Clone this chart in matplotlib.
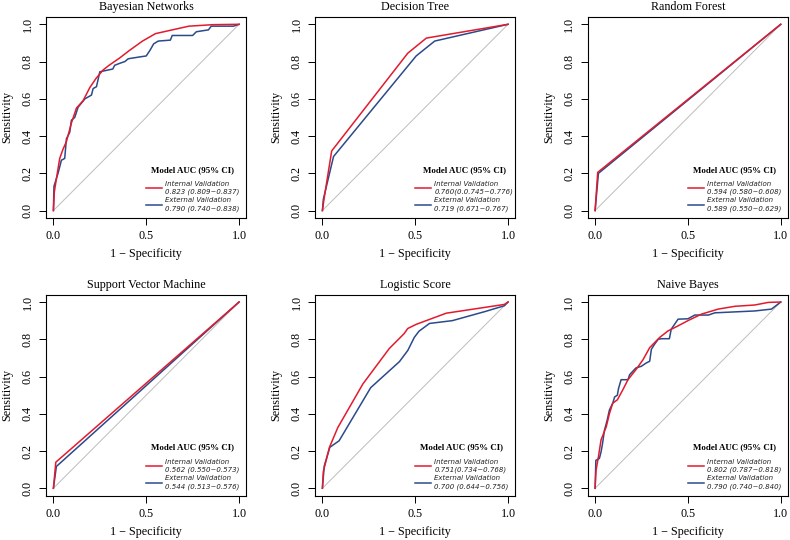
import matplotlib
matplotlib.use("Agg")
import matplotlib.pyplot as plt

plt.rcParams['font.family'] = ['Liberation Serif', 'DejaVu Serif']

# ROC points (fpr, tpr)
titles = ["Bayesian Networks", "Decision Tree", "Random Forest",
          "Support Vector Machine", "Logistic Score", "Naive Bayes"]

bn_int_x = [0, 0.005, 0.016, 0.034, 0.052, 0.07, 0.097, 0.124, 0.16, 0.196, 0.23, 0.268, 0.30, 0.358, 0.41, 0.48, 0.55, 0.64, 0.73, 0.86, 1]
bn_int_y = [0, 0.10, 0.17, 0.28, 0.33, 0.37, 0.47, 0.55, 0.59, 0.66, 0.71, 0.755, 0.78, 0.82, 0.86, 0.91, 0.95, 0.97, 0.99, 0.998, 1]
bn_ext_x = [0, 0.003, 0.025, 0.043, 0.061, 0.07, 0.088, 0.097, 0.115, 0.133, 0.17, 0.205, 0.214, 0.232, 0.25, 0.32, 0.33, 0.356, 0.385, 0.403, 0.466, 0.50, 0.52, 0.54, 0.565, 0.63, 0.64, 0.75, 0.77, 0.835, 0.85, 0.97, 1]
bn_ext_y = [0, 0.13, 0.20, 0.27, 0.28, 0.385, 0.42, 0.485, 0.50, 0.555, 0.60, 0.62, 0.655, 0.665, 0.745, 0.76, 0.78, 0.79, 0.80, 0.815, 0.825, 0.83, 0.86, 0.895, 0.91, 0.915, 0.94, 0.94, 0.96, 0.97, 0.99, 0.99, 1]

dt_int_x = [0, 0.01, 0.05, 0.46, 0.56, 1]
dt_int_y = [0, 0.07, 0.32, 0.845, 0.926, 1]
dt_ext_x = [0, 0.005, 0.06, 0.505, 0.605, 1]
dt_ext_y = [0, 0.06, 0.29, 0.83, 0.91, 1]

rf_int_x = [0, 0.014, 1]
rf_int_y = [0, 0.205, 1]
rf_ext_x = [0, 0.018, 1]
rf_ext_y = [0, 0.20, 1]

svm_int_x = [0, 0.013, 1]
svm_int_y = [0, 0.14, 1]
svm_ext_x = [0, 0.016, 1]
svm_ext_y = [0, 0.117, 1]

ls_int_x = [0, 0.005, 0.038, 0.083, 0.218, 0.36, 0.44, 0.46, 0.505, 0.667, 0.98, 1]
ls_int_y = [0, 0.09, 0.22, 0.326, 0.56, 0.75, 0.83, 0.858, 0.88, 0.94, 0.987, 1]
ls_ext_x = [0, 0.01, 0.04, 0.09, 0.26, 0.415, 0.46, 0.495, 0.52, 0.577, 0.70, 0.88, 0.98, 1]
ls_ext_y = [0, 0.12, 0.22, 0.255, 0.54, 0.68, 0.74, 0.81, 0.843, 0.885, 0.90, 0.95, 0.98, 1]

nb_int_x = [0, 0.005, 0.018, 0.032, 0.06, 0.077, 0.095, 0.12, 0.15, 0.177, 0.22, 0.258, 0.294, 0.348, 0.393, 0.447, 0.50, 0.573, 0.663, 0.753, 0.86, 0.933, 1]
nb_int_y = [0, 0.096, 0.17, 0.26, 0.33, 0.40, 0.457, 0.475, 0.53, 0.583, 0.637, 0.69, 0.755, 0.81, 0.845, 0.872, 0.90, 0.935, 0.962, 0.977, 0.984, 0.998, 1]
nb_ext_x = [0, 0.004, 0.023, 0.032, 0.04, 0.05, 0.065, 0.077, 0.095, 0.105, 0.12, 0.126, 0.14, 0.177, 0.186, 0.22, 0.249, 0.276, 0.294, 0.303, 0.32, 0.34, 0.357, 0.40, 0.41, 0.447, 0.50, 0.537, 0.61, 0.645, 0.86, 0.95, 1]
nb_ext_y = [0, 0.15, 0.16, 0.195, 0.24, 0.31, 0.366, 0.42, 0.457, 0.49, 0.50, 0.535, 0.583, 0.583, 0.61, 0.646, 0.655, 0.673, 0.682, 0.746, 0.773, 0.80, 0.803, 0.803, 0.854, 0.908, 0.91, 0.93, 0.93, 0.942, 0.952, 0.962, 1]

int_auc = ["0.823 (0.809~0.837)", "0.760(0.0.745~0.776)", "0.594 (0.580~0.608)",
           "0.562 (0.550~0.573)", "0.751(0.734~0.768)", "0.802 (0.787~0.818)"]
ext_auc = ["0.790 (0.740~0.838)", "0.719 (0.671~0.767)", "0.589 (0.550~0.629)",
           "0.544 (0.513~0.576)", "0.700 (0.644~0.756)", "0.790 (0.740~0.840)"]

curves = [
    (bn_int_x, bn_int_y, bn_ext_x, bn_ext_y),
    (dt_int_x, dt_int_y, dt_ext_x, dt_ext_y),
    (rf_int_x, rf_int_y, rf_ext_x, rf_ext_y),
    (svm_int_x, svm_int_y, svm_ext_x, svm_ext_y),
    (ls_int_x, ls_int_y, ls_ext_x, ls_ext_y),
    (nb_int_x, nb_int_y, nb_ext_x, nb_ext_y),
]

red = "#E31A2D"
blue = "#2B4A8B"

fig = plt.figure(figsize=(7.9, 5.4), dpi=100)
lefts = [0.0582, 0.3987, 0.7439]
bottoms = [0.5963, 0.082]
w, h = 0.2538, 0.3725

for i in range(6):
    ax = fig.add_axes([lefts[i % 3], bottoms[i // 3], w, h])
    ix, iy, ex, ey = curves[i]
    ax.plot([0, 1], [0, 1], color="#BDBDBD", lw=0.7, zorder=1)
    ax.plot(ix, iy, color=red, lw=1.1, label="Internal Validation\n" + int_auc[i], zorder=3)
    ax.plot(ex, ey, color=blue, lw=1.1, label="External Validation\n" + ext_auc[i], zorder=2)
    ax.set_xlim(-0.04, 1.04)
    ax.set_ylim(-0.04, 1.04)
    ax.set_xticks([0, 0.5, 1.0])
    ax.set_xticklabels(["0.0", "0.5", "1.0"])
    ax.set_yticks([0, 0.2, 0.4, 0.6, 0.8, 1.0])
    ax.set_yticklabels(["0.0", "0.2", "0.4", "0.6", "0.8", "1.0"])
    ax.tick_params(direction="out", length=5, width=0.7, labelsize=8.7, pad=4)
    plt.setp(ax.get_yticklabels(), rotation=90, va="center")
    for s in ax.spines.values():
        s.set_linewidth(0.8)
    ax.set_title(titles[i], fontsize=8.7, pad=5)
    ax.set_xlabel("1 \u2212 Specificity", fontsize=8.7, labelpad=4)
    ax.set_ylabel("Sensitivity", fontsize=8.7, labelpad=6)
    leg = ax.legend(loc="lower left", bbox_to_anchor=(0.50, 0.03), frameon=False,
                    title="Model AUC (95% CI)",
                    title_fontproperties={"family": "Liberation Serif", "weight": "bold", "size": 6.4},
                    prop={"family": "DejaVu Sans", "style": "oblique", "size": 5},
                    borderpad=0, borderaxespad=0, handlelength=2.3, handletextpad=0.45,
                    labelspacing=0.3)
    leg._legend_box.sep = 5
    for t in leg.get_texts():
        t.set_color("#222222")
        t.set_linespacing(1.4)

fig.savefig("out.png", dpi=100)
